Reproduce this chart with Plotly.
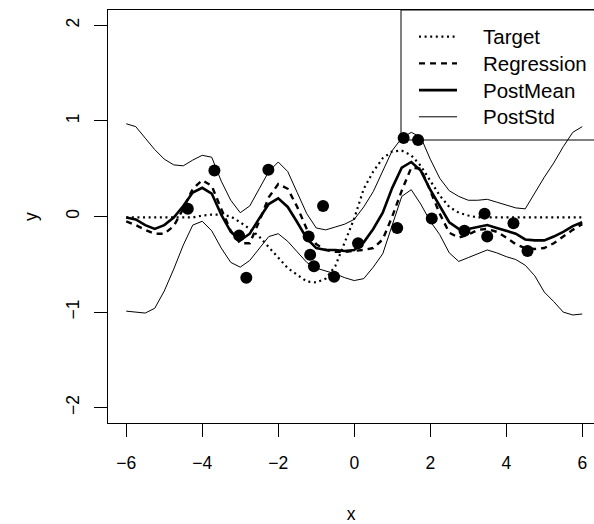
import plotly.graph_objects as go

# ---- data ----
x_grid = [-6 + 0.25 * i for i in range(49)]

target = [-0.01, -0.01, -0.01, -0.01, -0.01, -0.01, -0.01, -0.01, 0.01, 0.02,
          0.02, 0.00, -0.06, -0.13, -0.21, -0.32, -0.42, -0.54, -0.61, -0.68,
          -0.69, -0.65, -0.52, -0.27, -0.02, 0.29, 0.47, 0.61, 0.68, 0.69,
          0.64, 0.53, 0.37, 0.22, 0.10, 0.04, 0.01, -0.01, -0.01, -0.01,
          -0.01, -0.01, -0.01, -0.01, -0.01, -0.01, -0.01, -0.01, -0.01]

regression = [-0.05, -0.09, -0.14, -0.18, -0.18, -0.10, 0.08, 0.29, 0.38, 0.32,
              0.08, -0.15, -0.28, -0.28, -0.05, 0.20, 0.34, 0.29, 0.10, -0.13,
              -0.29, -0.35, -0.37, -0.37, -0.36, -0.35, -0.33, -0.24, 0.00, 0.27,
              0.51, 0.50, 0.27, 0.03, -0.17, -0.22, -0.19, -0.14, -0.13, -0.16,
              -0.22, -0.29, -0.33, -0.34, -0.33, -0.28, -0.21, -0.14, -0.08]

post_mean = [-0.01, -0.03, -0.09, -0.13, -0.09, -0.01, 0.11, 0.25, 0.30, 0.24,
             0.02, -0.16, -0.25, -0.18, -0.02, 0.13, 0.19, 0.10, -0.06, -0.23,
             -0.33, -0.35, -0.35, -0.36, -0.35, -0.27, -0.13, 0.04, 0.30, 0.51,
             0.57, 0.48, 0.28, 0.11, -0.06, -0.13, -0.13, -0.11, -0.09, -0.12,
             -0.15, -0.18, -0.24, -0.25, -0.25, -0.21, -0.16, -0.10, -0.06]

post_upper = [0.97, 0.94, 0.82, 0.70, 0.60, 0.54, 0.53, 0.59, 0.64, 0.62,
              0.37, 0.17, 0.04, 0.11, 0.29, 0.47, 0.57, 0.47, 0.25, 0.03,
              -0.12, -0.14, -0.11, -0.08, -0.03, 0.10, 0.26, 0.47, 0.69, 0.82,
              0.88, 0.83, 0.60, 0.40, 0.27, 0.21, 0.17, 0.17, 0.18, 0.15,
              0.12, 0.09, 0.08, 0.25, 0.41, 0.56, 0.73, 0.88, 0.94]

post_lower = [-0.99, -1.00, -1.01, -0.96, -0.78, -0.55, -0.30, -0.09, -0.05, -0.15,
              -0.33, -0.48, -0.53, -0.46, -0.34, -0.21, -0.18, -0.26, -0.37, -0.48,
              -0.54, -0.57, -0.60, -0.64, -0.67, -0.65, -0.53, -0.39, -0.10, 0.21,
              0.28, 0.13, -0.05, -0.19, -0.38, -0.47, -0.43, -0.39, -0.35, -0.38,
              -0.42, -0.45, -0.51, -0.62, -0.79, -0.89, -1.00, -1.03, -1.02]

obs_x = [-4.38, -3.68, -3.03, -2.84, -2.26, -1.20, -1.16, -1.06, -0.82, -0.53,
         0.10, 1.13, 1.30, 1.68, 2.04, 2.90, 3.43, 3.50, 4.19, 4.56]
obs_y = [0.08, 0.48, -0.20, -0.64, 0.49, -0.21, -0.40, -0.52, 0.11, -0.63,
         -0.28, -0.12, 0.82, 0.80, -0.02, -0.15, 0.03, -0.21, -0.07, -0.36]

legend_labels = ["Target", "Regression", "PostMean", "PostStd"]

# ---- layout geometry (pixels) ----
W, H = 594, 524
L, T, B = 108, 10, 101
PW, PH = W - L, H - T - B

def px(xp):
    return (xp - L) / PW

def py(yp):
    return (H - B - yp) / PH

FONT = "Liberation Sans, Arial, sans-serif"
TF = 17.5

styles = {
    "Target": dict(color="black", width=2.2, dash="2px,3.6px"),
    "Regression": dict(color="black", width=2.4, dash="6px,5px"),
    "PostMean": dict(color="black", width=2.6),
    "PostStd": dict(color="black", width=1),
}

fig = go.Figure()
fig.add_trace(go.Scatter(x=x_grid, y=target, mode="lines", line=styles["Target"],
                         name="Target", showlegend=False))
fig.add_trace(go.Scatter(x=x_grid, y=regression, mode="lines", line=styles["Regression"],
                         name="Regression", showlegend=False))
fig.add_trace(go.Scatter(x=x_grid, y=post_mean, mode="lines", line=styles["PostMean"],
                         name="PostMean", showlegend=False))
fig.add_trace(go.Scatter(x=x_grid, y=post_upper, mode="lines", line=styles["PostStd"],
                         name="PostStd", showlegend=False))
fig.add_trace(go.Scatter(x=x_grid, y=post_lower, mode="lines", line=styles["PostStd"],
                         name="PostStd", showlegend=False))
fig.add_trace(go.Scatter(x=obs_x, y=obs_y, mode="markers",
                         marker=dict(color="black", size=12, line=dict(width=0)),
                         name="data", showlegend=False))

# legend box (R style, anchored to the top-right of the plot region, no fill)
shapes = [dict(type="rect", xref="paper", yref="paper",
               x0=px(401), x1=px(610), y0=py(140), y1=py(T),
               line=dict(color="black", width=1), layer="below")]
annotations = []
rows = [36.7, 63.4, 90.1, 116.8]
for lab, yr in zip(legend_labels, rows):
    st = styles[lab]
    shapes.append(dict(type="line", xref="paper", yref="paper",
                       x0=px(419), x1=px(457), y0=py(yr), y1=py(yr),
                       line=dict(color="black", width=st["width"], dash=st.get("dash", "solid"))))
    annotations.append(dict(text=lab, xref="paper", yref="paper", x=px(481), y=py(yr),
                            xanchor="left", yanchor="middle", showarrow=False,
                            font=dict(family=FONT, size=20.5, color="black")))

fig.update_layout(
    width=W, height=H,
    margin=dict(l=L, r=0, t=T, b=B, pad=0),
    paper_bgcolor="white", plot_bgcolor="white",
    font=dict(family=FONT, size=TF, color="black"),
    shapes=shapes, annotations=annotations,
    showlegend=False,
)
fig.update_xaxes(range=[-6.48, -6.48 + PW / 38.0], tickvals=[-6, -4, -2, 0, 2, 4, 6],
                 showgrid=False, zeroline=False, showline=True, mirror=True,
                 linecolor="black", linewidth=1, ticks="outside", ticklen=13,
                 tickcolor="black", tickwidth=1, ticklabelstandoff=11,
                 tickfont=dict(family=FONT, size=TF, color="black"),
                 title=dict(text="x", font=dict(family=FONT, size=TF, color="black"),
                            standoff=38))
fig.update_yaxes(range=[-2.16, 2.16], tickvals=[-2, -1, 0, 1, 2],
                 showgrid=False, zeroline=False, showline=True, mirror=False,
                 linecolor="black", linewidth=1, ticks="outside", ticklen=13,
                 tickcolor="black", tickwidth=1, tickangle=-90, ticklabelstandoff=8,
                 tickfont=dict(family=FONT, size=TF, color="black"),
                 title=dict(text="y", font=dict(family=FONT, size=TF, color="black"),
                            standoff=20))

fig.write_html("out.html")
